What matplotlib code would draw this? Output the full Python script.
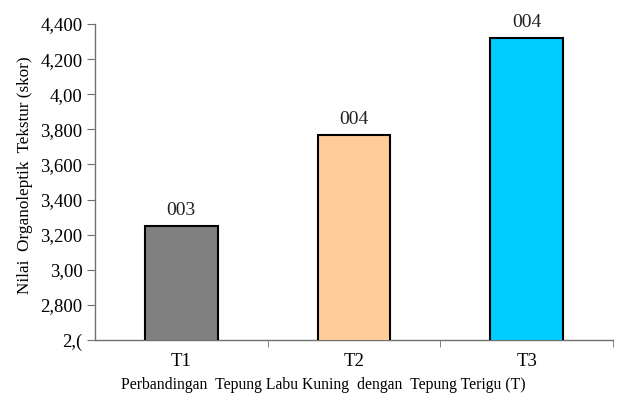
import matplotlib
matplotlib.use('Agg')
import matplotlib.pyplot as plt

categories = ['T1', 'T2', 'T3']
scores = [3.25, 3.77, 4.32]
notes = ['003', '004', '004']
bar_colors = ['#808080', '#ffcc99', '#00ccff']
ytick_values = [2.6, 2.8, 3.0, 3.2, 3.4, 3.6, 3.8, 4.0, 4.2, 4.4]
ytick_labels = ['2,(', '2,800', '3,00', '3,200', '3,400', '3,600', '3,800', '4,00', '4,200', '4,400']

plt.rcParams['font.family'] = ['Liberation Serif', 'DejaVu Serif']

fig = plt.figure(figsize=(6.44, 4.0), dpi=100)
ax = fig.add_axes([0.1475, 0.15, 0.8045, 0.79])

x = range(len(categories))
ax.bar(x, scores, width=0.42, color=bar_colors, edgecolor='black', linewidth=1.5, zorder=3)

for xi, val, note in zip(x, scores, notes):
    ax.text(xi, val + 0.04, note, ha='center', va='bottom', fontsize=14, color='#222222')

ax.set_xlim(-0.5, 2.5)
ax.set_ylim(2.6, 4.4)
ax.set_yticks(ytick_values)
ax.set_yticklabels(ytick_labels, fontsize=13.5)
ax.set_xticks(list(x))
ax.set_xticklabels(categories, fontsize=13.5)
ax.tick_params(axis='x', which='major', length=0, pad=9)
ax.set_xticks([0.5, 1.5, 2.5], minor=True)
ax.tick_params(axis='x', which='minor', length=5, color='#707070', direction='out')
ax.tick_params(axis='y', length=6, color='#707070', direction='out', pad=3)

for side in ['top', 'right']:
    ax.spines[side].set_visible(False)
for side in ['left', 'bottom']:
    ax.spines[side].set_color('#707070')
    ax.spines[side].set_linewidth(1.0)

ax.set_xlabel('Perbandingan  Tepung Labu Kuning  dengan  Tepung Terigu (T)', fontsize=11.3)
ax.xaxis.set_label_coords(0.44, -0.118)
ax.set_ylabel('Nilai  Organoleptik  Tekstur (skor)', fontsize=12.3)
ax.yaxis.set_label_coords(-0.12, 0.52)

plt.savefig('out.png', dpi=100)
plt.close(fig)
